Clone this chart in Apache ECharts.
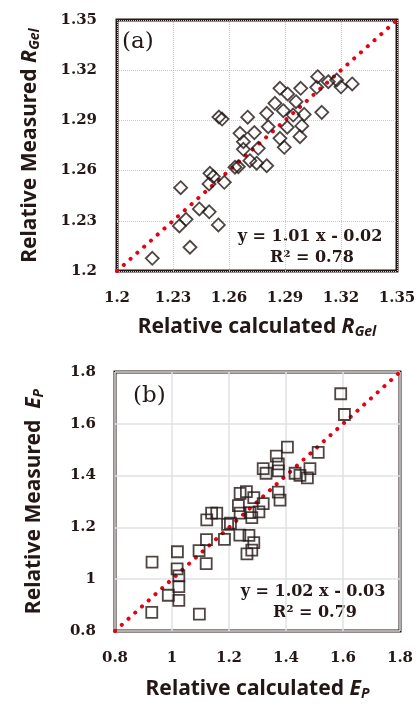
<!DOCTYPE html>
<html>
<head>
<meta charset="utf-8">
<script src="https://cdn.jsdelivr.net/npm/echarts@6/dist/echarts.min.js"></script>
<style>
  html, body { margin: 0; padding: 0; background: #fff; }
  #chart { width: 420px; height: 707px; }
</style>
</head>
<body>
<div id="chart"></div>
<script>
// (a) relative R_Gel, calculated vs measured
const pointsA = [
  [1.3075, 1.3161], [1.307, 1.3098], [1.3132, 1.3131], [1.3177, 1.3141], [1.32, 1.3101],
  [1.326, 1.3118], [1.2873, 1.3092], [1.2914, 1.3058], [1.2984, 1.3092], [1.2846, 1.3002],
  [1.2959, 1.3012], [1.2891, 1.2958], [1.2802, 1.2942], [1.27, 1.2919], [1.2944, 1.2932],
  [1.3003, 1.2936], [1.3097, 1.2948], [1.281, 1.2862], [1.2912, 1.2859], [1.299, 1.2867],
  [1.2736, 1.2827], [1.2659, 1.2823], [1.2873, 1.2793], [1.298, 1.2803], [1.2677, 1.2773],
  [1.2677, 1.2727], [1.2757, 1.2733], [1.2896, 1.2739], [1.2712, 1.2659], [1.2748, 1.2644],
  [1.2802, 1.2629], [1.265, 1.2623], [1.2632, 1.262], [1.2498, 1.2584], [1.2516, 1.2564],
  [1.2493, 1.252], [1.2575, 1.253], [1.2341, 1.2498], [1.2441, 1.2371], [1.2494, 1.2354],
  [1.237, 1.2309], [1.2334, 1.2269], [1.2543, 1.2275], [1.2391, 1.2142], [1.2189, 1.2076],
  [1.2546, 1.292], [1.2563, 1.2908]
];
// (b) relative E_P, calculated vs measured
const pointsB = [
  [1.592, 1.716], [1.605, 1.636], [1.513, 1.49], [1.405, 1.51], [1.366, 1.475],
  [1.373, 1.4455], [1.373, 1.4185], [1.32, 1.427], [1.33, 1.409], [1.432, 1.409],
  [1.449, 1.401], [1.484, 1.427], [1.475, 1.391], [1.373, 1.336], [1.379, 1.305],
  [1.239, 1.331], [1.261, 1.338], [1.287, 1.315], [1.32, 1.292], [1.233, 1.284],
  [1.239, 1.255], [1.274, 1.257], [1.305, 1.26], [1.28, 1.238], [1.139, 1.255],
  [1.157, 1.255], [1.122, 1.229], [1.205, 1.216], [1.195, 1.212], [1.238, 1.17],
  [1.27, 1.169], [1.287, 1.141], [1.28, 1.112], [1.263, 1.098], [1.121, 1.153],
  [1.184, 1.154], [1.095, 1.11], [1.12, 1.06], [1.019, 1.106], [0.93, 1.066],
  [1.018, 1.04], [1.024, 1.013], [1.024, 0.971], [0.987, 0.938], [1.024, 0.918],
  [0.929, 0.872], [1.096, 0.865]
];
// 1:1 reference lines
const diagA = [[1.2, 1.2], [1.35, 1.35]];
const diagB = [[0.8, 0.8], [1.8, 1.8]];
// axis ranges
const rangeA = { min: 1.2, max: 1.35, step: 0.03 };
const rangeB = { min: 0.8, max: 1.8, step: 0.2 };
const eqA = ['y = 1.01 x - 0.02', 'R² = 0.78'];
const eqB = ['y = 1.02 x - 0.03', 'R² = 0.79'];

const ink = '#231815';
const red = '#e60012';
const serif = 'DejaVu Serif';
const sans = 'Noto Sans';

const nameRich = {
  t: { fontFamily: sans, fontWeight: 'bold', fontSize: 21, color: ink },
  i: { fontFamily: sans, fontWeight: 'bold', fontStyle: 'italic', fontSize: 21, color: ink },
  s: { fontFamily: sans, fontWeight: 'bold', fontStyle: 'italic', fontSize: 14, color: ink, verticalAlign: 'bottom', padding: [10, 0, 0, 0] }
};

function axis(grid, r, dec, extra) {
  return Object.assign({
    gridIndex: grid,
    type: 'value',
    min: r.min, max: r.max, interval: r.step,
    axisLine: { show: false },
    axisTick: { show: false },
    axisLabel: {
      fontFamily: serif, fontWeight: 'bold', fontSize: 15, color: ink,
      formatter: v => String(+v.toFixed(dec))
    },
    nameLocation: 'middle',
    nameTextStyle: { rich: nameRich }
  }, extra);
}

const chart = echarts.init(document.getElementById('chart'));
chart.setOption({
  animation: false,
  grid: [
    { left: 117, top: 20, width: 280, height: 251, show: true, borderColor: ink, borderWidth: 3, backgroundColor: 'transparent' },
    { left: 115, top: 372, width: 285, height: 259, show: true, borderColor: ink, borderWidth: 3, backgroundColor: 'transparent' }
  ],
  xAxis: [
    axis(0, rangeA, 2, {
      name: '{t|Relative calculated }{i|R}{s|Gel}', nameGap: 44,
      axisLabel: { fontFamily: serif, fontWeight: 'bold', fontSize: 15, color: ink, margin: 20, formatter: v => String(+v.toFixed(2)) },
      splitLine: { show: true, lineStyle: { color: '#c9c9c9', type: 'dotted', width: 1 } }
    }),
    axis(1, rangeB, 1, {
      name: '{t|Relative calculated }{i|E}{s|P}', nameGap: 46,
      axisLabel: { fontFamily: serif, fontWeight: 'bold', fontSize: 15, color: ink, margin: 20, formatter: v => String(+v.toFixed(1)) },
      splitLine: { show: true, lineStyle: { color: '#e2e2e2', type: 'solid', width: 1.5 } }
    })
  ],
  yAxis: [
    axis(0, rangeA, 2, {
      name: '{t|Relative Measured }{i|R}{s|Gel}', nameGap: 75,
      axisLabel: { fontFamily: serif, fontWeight: 'bold', fontSize: 15, color: ink, margin: 20, formatter: v => String(+v.toFixed(2)) },
      splitLine: { show: true, lineStyle: { color: '#c9c9c9', type: 'dotted', width: 1 } }
    }),
    axis(1, rangeB, 1, {
      name: '{t|Relative Measured  }{i|E}{s|P}', nameGap: 69,
      axisLabel: { fontFamily: serif, fontWeight: 'bold', fontSize: 15, color: ink, margin: 19, formatter: v => String(+v.toFixed(1)) },
      splitLine: { show: true, lineStyle: { color: '#e2e2e2', type: 'solid', width: 1.5 } }
    })
  ],
  series: [
    {
      type: 'line', xAxisIndex: 0, yAxisIndex: 0, data: diagA, symbol: 'none', z: 3,
      lineStyle: { color: red, width: 4, type: [0.1, 9], cap: 'round' }
    },
    {
      type: 'scatter', xAxisIndex: 0, yAxisIndex: 0, data: pointsA, symbol: 'diamond', symbolSize: [13, 13], z: 4,
      itemStyle: { color: 'transparent', borderColor: ink, borderWidth: 1.8 }
    },
    {
      type: 'line', xAxisIndex: 1, yAxisIndex: 1, data: diagB, symbol: 'none', z: 3,
      lineStyle: { color: red, width: 4, type: [0.1, 9], cap: 'round' }
    },
    {
      type: 'scatter', xAxisIndex: 1, yAxisIndex: 1, data: pointsB, symbol: 'rect', symbolSize: 11, z: 4,
      itemStyle: { color: 'transparent', borderColor: ink, borderWidth: 1.8 }
    }
  ],
  graphic: [
    { type: 'text', left: 122, top: 31, style: { text: '(a)', font: '23px "DejaVu Serif"', fill: ink } },
    { type: 'text', left: 133, top: 385, style: { text: '(b)', font: '23px "DejaVu Serif"', fill: ink } },
    { type: 'text', x: 310, y: 237, style: { text: eqA[0], font: 'bold 16px "DejaVu Serif"', fill: ink, align: 'center', verticalAlign: 'middle' } },
    { type: 'text', x: 312, y: 258, style: { text: eqA[1], font: 'bold 16px "DejaVu Serif"', fill: ink, align: 'center', verticalAlign: 'middle' } },
    { type: 'text', x: 313, y: 592, style: { text: eqB[0], font: 'bold 16px "DejaVu Serif"', fill: ink, align: 'center', verticalAlign: 'middle' } },
    { type: 'text', x: 315, y: 613, style: { text: eqB[1], font: 'bold 16px "DejaVu Serif"', fill: ink, align: 'center', verticalAlign: 'middle' } }
  ]
});
</script>
</body>
</html>
